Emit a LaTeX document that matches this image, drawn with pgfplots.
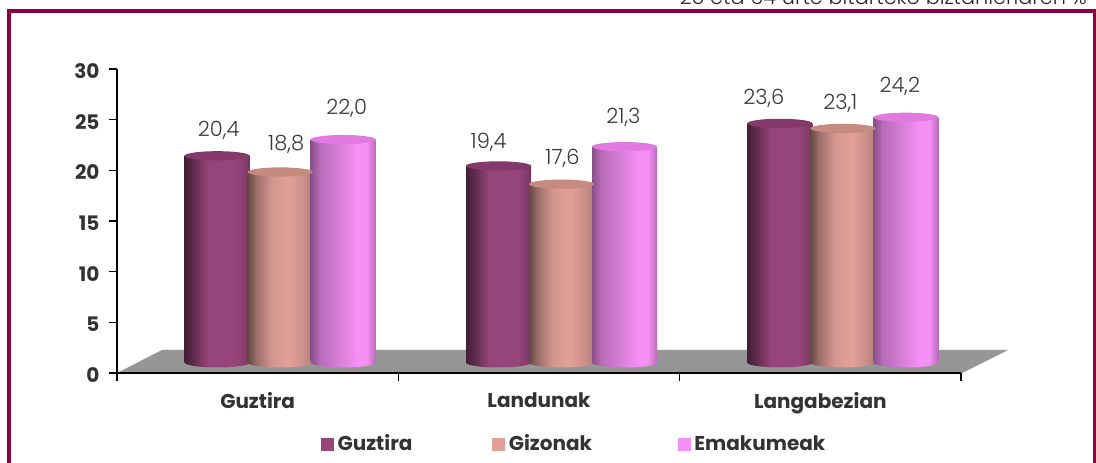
\documentclass[border=0pt]{standalone}
\usepackage{pgfplots}
\usepackage{pgfplotstable}
\usepackage{fontspec}
\pgfplotsset{compat=1.18}
\setmainfont{Poppins}
\newfontfamily\lightfont{Poppins Light}
\definecolor{frameC}{HTML}{8B0045}
\definecolor{txtC}{HTML}{333333}
\definecolor{lblC}{HTML}{3A3A3A}
\definecolor{aC}{HTML}{954578}
\definecolor{bC}{HTML}{E0A098}
\definecolor{cC}{HTML}{F590F5}
\definecolor{aTop}{HTML}{84396A}
\definecolor{bTop}{HTML}{C58A80}
\definecolor{cTop}{HTML}{E07AE0}
\pgfdeclarehorizontalshading{cylA}{100bp}{color(0bp)=(aC!45!black); color(25bp)=(aC!45!black); color(32bp)=(aC!65!black); color(43bp)=(aC); color(65bp)=(aC); color(72bp)=(aC!88!black); color(75bp)=(aC!75!black); color(100bp)=(aC!75!black)}
\pgfdeclarehorizontalshading{cylB}{100bp}{color(0bp)=(bC!45!black); color(25bp)=(bC!45!black); color(32bp)=(bC!70!black); color(44bp)=(bC!95!black); color(57bp)=(bC); color(68bp)=(bC!90!black); color(75bp)=(bC!78!black); color(100bp)=(bC!78!black)}
\pgfdeclarehorizontalshading{cylC}{100bp}{color(0bp)=(cC!55!black); color(25bp)=(cC!55!black); color(32bp)=(cC!75!black); color(52bp)=(cC!92!black); color(60bp)=(cC); color(68bp)=(cC); color(75bp)=(cC!75!black); color(100bp)=(cC!75!black)}
\pgfdeclareplotmark{topE}{\pgfpathellipse{\pgfpointorigin}{\pgfqpoint{32.5pt}{0pt}}{\pgfqpoint{0pt}{4.6pt}}\pgfusepathqfill}
\pgfdeclareplotmark{botA}{\pgfpathellipse{\pgfpointorigin}{\pgfqpoint{32.5pt}{0pt}}{\pgfqpoint{0pt}{5pt}}\pgfshadepath{cylA}{0}\pgfusepath{discard}}
\pgfdeclareplotmark{botB}{\pgfpathellipse{\pgfpointorigin}{\pgfqpoint{32.5pt}{0pt}}{\pgfqpoint{0pt}{5pt}}\pgfshadepath{cylB}{0}\pgfusepath{discard}}
\pgfdeclareplotmark{botC}{\pgfpathellipse{\pgfpointorigin}{\pgfqpoint{32.5pt}{0pt}}{\pgfqpoint{0pt}{5pt}}\pgfshadepath{cylC}{0}\pgfusepath{discard}}
\pgfplotstableread{
x val dx dy
0 20.4 1.5 25
1 19.4 -10 24
2 23.6 -16 25
}\tA
\pgfplotstableread{
x val dx dy
0 18.8 6 28
1 17.6 1 25.7
2 23.1 -2.5 25
}\tB
\pgfplotstableread{
x val dx dy
0 22.0 3.5 31
1 21.3 -1 29
2 24.2 -6 31
}\tC
\newcommand{\cyl}[4]{%
  \addplot[cylbar,shading=#2,xshift=#3pt,yshift=10.5pt,restrict x to domain=#4:#4] table[x=x,y=val] {#1};}
\begin{document}
\begin{tikzpicture}[x=1pt,y=1pt]
\useasboundingbox (0,0) rectangle (1096,463);
\clip (0,0) rectangle (1096,463);
\fill[white] (0,0) rectangle (1096,463);
\node[anchor=base east,inner sep=0,font=\lightfont\fontsize{20.8}{24}\selectfont,text=black!85] at (1087,458) {25 eta 64 urte bitarteko biztanleriaren \%};
\draw[frameC,line width=4pt] (9,-20) -- (9,452) -- (1095,452) -- (1095,-20);
\fill[black!41] (117,90) -- (162,113) -- (1008,113) -- (962,90) -- cycle;
\begin{axis}[
  at={(117pt,90pt)},anchor=south west,
  scale only axis,width=844pt,height=304pt,
  xmin=-0.5,xmax=2.5,ymin=0,ymax=30,
  clip=false,
  axis lines*=left,
  axis line style={line width=1.6pt,black,-},
  xtick={0,1,2},xticklabels={Guztira,Landunak,Langabezian},
  minor xtick={-0.5,0.5,1.5,2.5},
  major x tick style={draw=none},
  minor tick length=8pt,
  ytick={0,5,10,15,20,25,30},
  major tick length=8pt,
  tick align=outside,
  tick style={black,line width=1.2pt},
  /pgf/number format/assume math mode=true,
  tick label style={font=\bfseries\fontsize{20}{24}\selectfont,text=txtC},
  xticklabel style={yshift=-8pt},
  yticklabel style={xshift=-6pt,yshift=-2pt},
  legend columns=3,
  legend style={at={(0.2417,-0.2335)},anchor=west,draw=none,fill=none,inner sep=0pt,
    font=\bfseries\fontsize{20}{24}\selectfont,text=txtC,
    nodes={text height=16pt,text depth=3pt},
    /tikz/column 1/.style={column sep=2pt},
    /tikz/column 3/.style={column sep=2pt},
    /tikz/column 5/.style={column sep=2pt},
    /tikz/column 2/.style={column sep=78pt},
    /tikz/column 4/.style={column sep=84pt}},
  cylbar/.style={ybar,bar width=65pt,bar shift=0pt,draw=none,forget plot},
  toplbl/.style={only marks,mark=topE,forget plot,
    point meta=explicit,
    nodes near coords={\pgfmathprintnumber[fixed,fixed zerofill,precision=1,use comma,assume math mode=true]{\pgfplotspointmeta}},
    visualization depends on={\thisrow{dx} \as \labdx},
    visualization depends on={\thisrow{dy} \as \labdy},
    every node near coord/.append style={anchor=center,inner sep=0pt,xshift=\labdx pt,yshift=\labdy pt,font=\lightfont\fontsize{21}{24}\selectfont,text=lblC}},
]
% series 1
\addplot[only marks,mark=botA,forget plot,xshift=-40.5pt,yshift=10.5pt] table[x=x,y expr=0] {\tA};
\cyl{\tA}{cylA}{-40.5}{0}\cyl{\tA}{cylA}{-40.5}{1}\cyl{\tA}{cylA}{-40.5}{2}
\addplot[toplbl,mark options={fill=aTop,draw=none},xshift=-40.5pt,yshift=10.5pt] table[x=x,y=val,meta=val] {\tA};
% series 2
\addplot[only marks,mark=botB,forget plot,xshift=22.5pt,yshift=10.5pt] table[x=x,y expr=0] {\tB};
\cyl{\tB}{cylB}{22.5}{0}\cyl{\tB}{cylB}{22.5}{1}\cyl{\tB}{cylB}{22.5}{2}
\addplot[toplbl,mark options={fill=bTop,draw=none},xshift=22.5pt,yshift=10.5pt] table[x=x,y=val,meta=val] {\tB};
% series 3
\addplot[only marks,mark=botC,forget plot,xshift=85.5pt,yshift=10.5pt] table[x=x,y expr=0] {\tC};
\cyl{\tC}{cylC}{85.5}{0}\cyl{\tC}{cylC}{85.5}{1}\cyl{\tC}{cylC}{85.5}{2}
\addplot[toplbl,mark options={fill=cTop,draw=none},xshift=85.5pt,yshift=10.5pt] table[x=x,y=val,meta=val] {\tC};
\addlegendimage{legend image code/.code={\fill[aC] (0pt,-6pt) rectangle (12pt,6pt);}}
\addlegendentry{Guztira}
\addlegendimage{legend image code/.code={\fill[bC] (0pt,-6pt) rectangle (12pt,6pt);}}
\addlegendentry{Gizonak}
\addlegendimage{legend image code/.code={\fill[cC] (0pt,-6pt) rectangle (12pt,6pt);}}
\addlegendentry{Emakumeak}
\end{axis}
\end{tikzpicture}
\end{document}
